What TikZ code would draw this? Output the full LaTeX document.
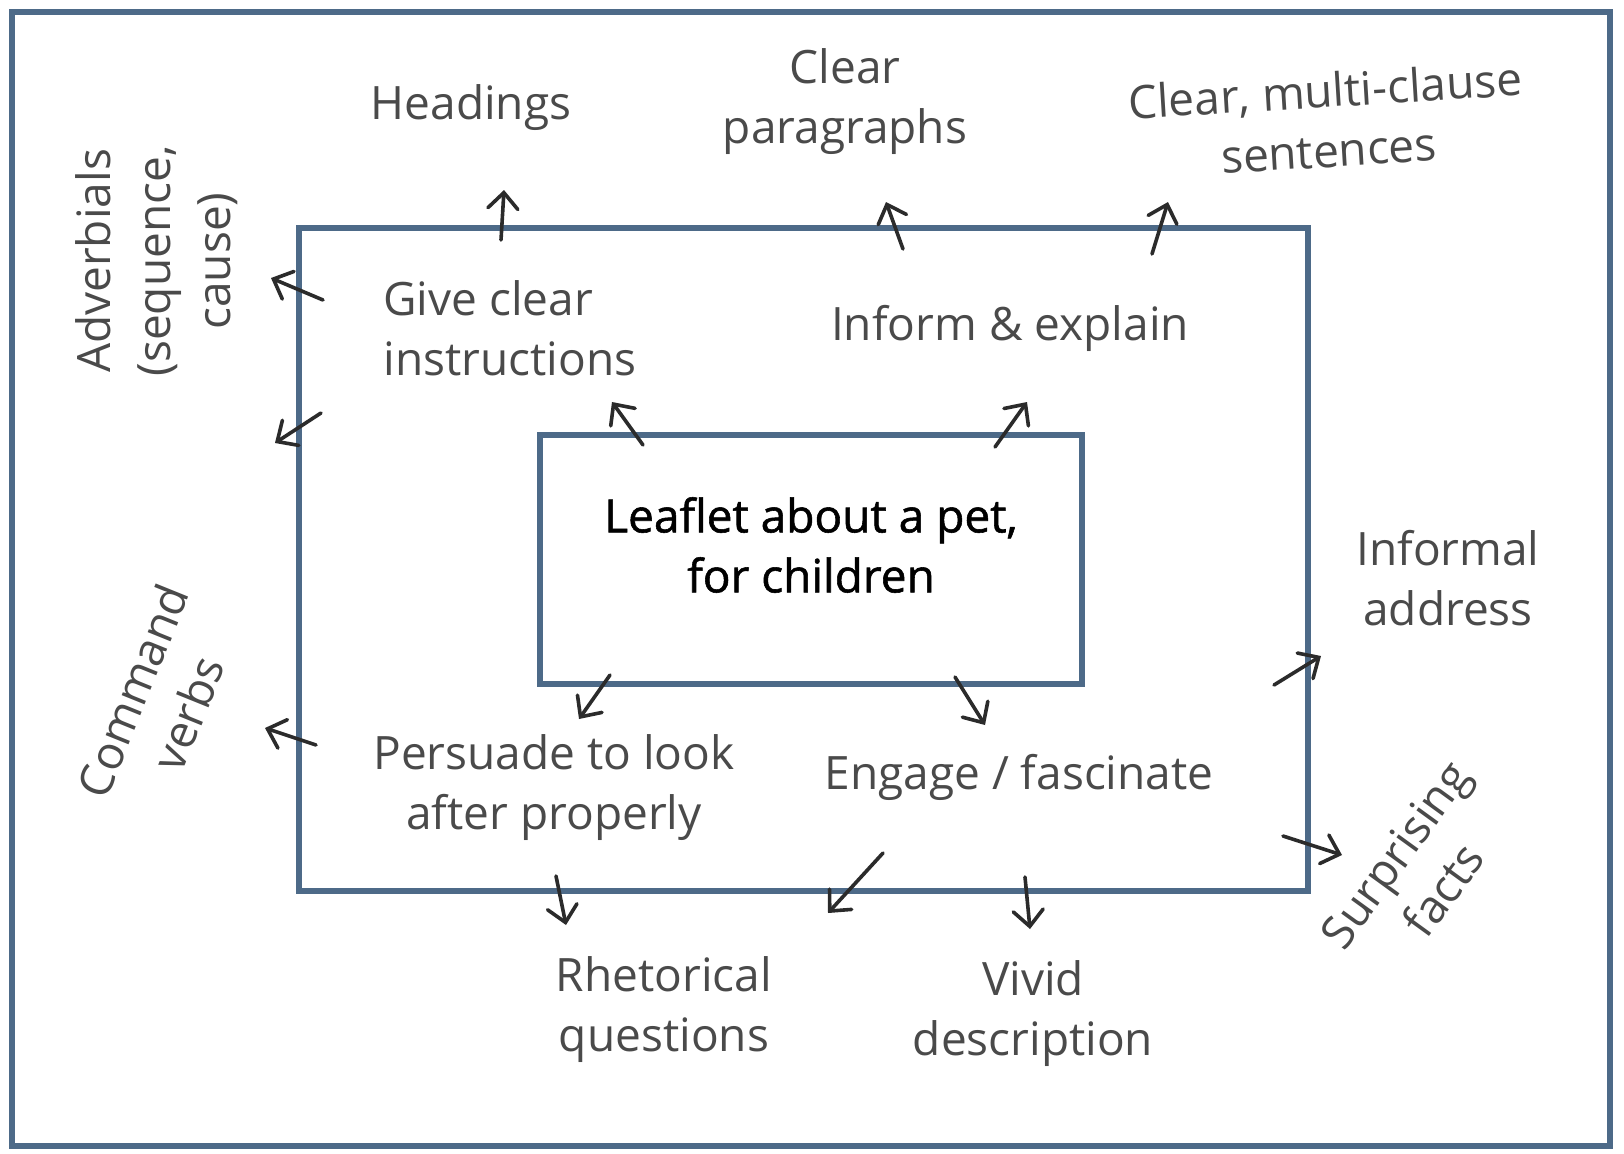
\documentclass[tikz,border=0pt]{standalone}
\usepackage{fontspec}
\setmainfont{Open Sans}
\newfontfamily\hubfont[FakeBold=1.2]{Open Sans}
\usetikzlibrary{arrows.meta}
\definecolor{boxblue}{HTML}{4D6A88}
\definecolor{inkgray}{HTML}{4A4A4A}
\definecolor{inkdark}{HTML}{2B2B2B}
\begin{document}
\begin{tikzpicture}[x=0.5pt,y=-0.5pt,
  frame/.style={draw=boxblue,line width=2.8pt},
  lbl/.style={text=inkgray,font=\fontsize{23}{30}\selectfont,align=center,inner sep=0pt},
  hub/.style={text=black,font=\hubfont\fontsize{23}{30}\selectfont,align=center,inner sep=0pt},
  pointer/.style={draw=inkdark,line width=1.8pt,line cap=round,
    -{Straight Barb[length=8pt,width=15pt,line cap=round]}}]

\useasboundingbox (0,0) rectangle (1624,1153);
\fill[white] (0,0) rectangle (1624,1153);

% frames
\draw[frame] (12,12) rectangle (1610,1146);
\draw[frame] (299,228) rectangle (1308,891);
\draw[frame] (540,435) rectangle (1082,684);

% labels
\node[lbl] (headings) at (471,108) {Headings};
\node[lbl] (paras) at (845,102) {Clear\\paragraphs};
\node[lbl,rotate=3.5] (sentences) at (1327,120) {Clear, multi-clause\\sentences};
\node[lbl,rotate=90] (adverbials) at (157,261) {Adverbials\\(sequence,\\cause)};
\node[lbl,align=left,anchor=west] (instr) at (383,328) {Give clear\\instructions};
\node[lbl] (inform) at (1010,328) {Inform \& explain};
\node[hub] (hubtext) at (811,545) {Leaflet about a pet,\\for children};
\node[lbl] (informal) at (1448,578) {Informal\\address};
\node[lbl,rotate=68] (command) at (160,702) {Command\\verbs};
\node[lbl] (persuade) at (554,788) {Persuade to look\\after properly};
\node[lbl] (engage) at (1019,777) {Engage / fascinate};
\node[lbl] (rhetorical) at (664,1010) {Rhetorical\\questions};
\node[lbl] (vivid) at (1033,1014) {Vivid\\description};
\node[lbl,rotate=54] (surprising) at (1419,872) {Surprising\\facts};

% arrow end points
\coordinate (a1) at (501,240); \coordinate (a2) at (504,190);
\coordinate (b1) at (903,249); \coordinate (b2) at (886,202);
\coordinate (c1) at (1152,254); \coordinate (c2) at (1168,202);
\coordinate (d1) at (323,300); \coordinate (d2) at (271,278);
\coordinate (e1) at (321,413); \coordinate (e2) at (275,443);
\coordinate (f1) at (643,445); \coordinate (f2) at (612,402);
\coordinate (g1) at (995,447); \coordinate (g2) at (1027,402);
\coordinate (h1) at (610,675); \coordinate (h2) at (579,719);
\coordinate (i1) at (316,745); \coordinate (i2) at (265,728);
\coordinate (j1) at (556,876); \coordinate (j2) at (566,925);
\coordinate (k1) at (955,677); \coordinate (k2) at (985,725);
\coordinate (l1) at (1274,685); \coordinate (l2) at (1321,656);
\coordinate (m1) at (1283,836); \coordinate (m2) at (1342,855);
\coordinate (n1) at (883,853); \coordinate (n2) at (828,913);
\coordinate (o1) at (1025,877); \coordinate (o2) at (1030,929);

\foreach \p in {a,b,c,d,e,f,g,h,i,j,k,l,m,n,o}
  \draw[pointer] (\p1) -- (\p2);
\end{tikzpicture}
\end{document}
